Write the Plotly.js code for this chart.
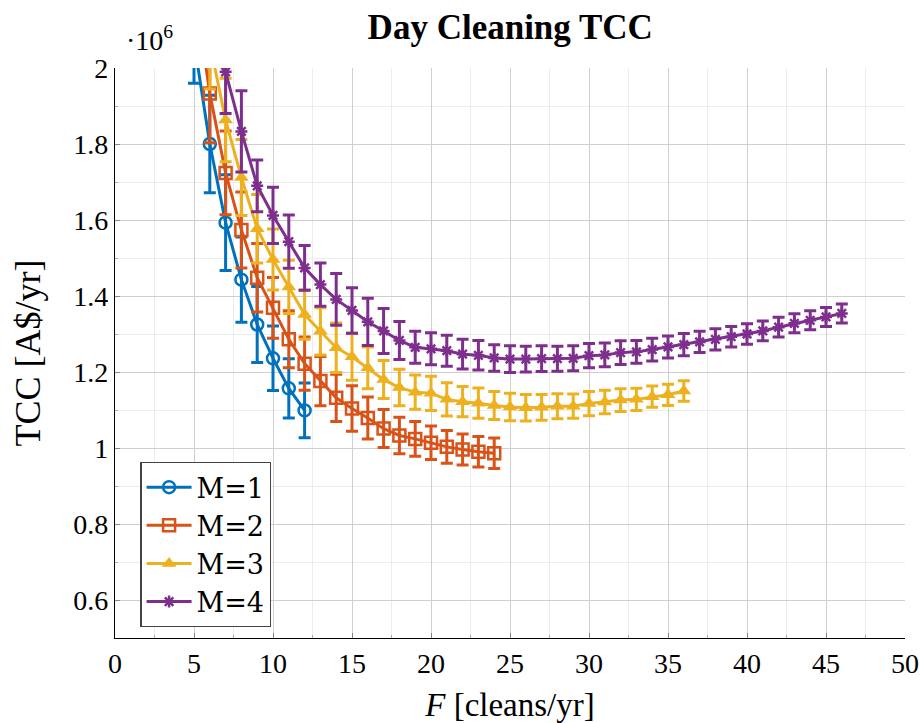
<!DOCTYPE html>
<html>
<head>
<meta charset="utf-8">
<script src="https://cdn.plot.ly/plotly-3.0.1.min.js"></script>
<style>
  html, body { margin: 0; padding: 0; background: #fff; }
  #chart { width: 921px; height: 723px; }
</style>
</head>
<body>
<div id="chart"></div>
<script>
// Total cleaning cost (millions of A$/yr) against cleaning frequency F,
// one series per M, with error bars.
const seriesNames = ["M=1", "M=2", "M=3", "M=4"];

const freqM1 = [5, 6, 7, 8, 9, 10, 11, 12];
const tccM1 = [2.07, 1.80, 1.593, 1.443, 1.325, 1.236, 1.157, 1.099];
const errM1 = [0.11, 0.128, 0.126, 0.112, 0.10, 0.085, 0.078, 0.072];

const freqM2 = [5, 6, 7, 8, 9, 10, 11, 12, 13, 14, 15, 16, 17, 18, 19, 20, 21, 22, 23, 24];
const tccM2 = [2.22, 1.933, 1.724, 1.574, 1.448, 1.369, 1.286, 1.222, 1.176, 1.132, 1.104, 1.079,
               1.051, 1.033, 1.024, 1.014, 1.003, 0.996, 0.990, 0.986];
const errM2 = [0.14, 0.13, 0.11, 0.10, 0.09, 0.08, 0.075, 0.07, 0.065, 0.062, 0.06, 0.055,
               0.05, 0.048, 0.046, 0.044, 0.043, 0.041, 0.04, 0.04];

const freqM3 = [6, 7, 8, 9, 10, 11, 12, 13, 14, 15, 16, 17, 18, 19, 20, 21, 22, 23, 24, 25,
                26, 27, 28, 29, 30, 31, 32, 33, 34, 35, 36];
const tccM3 = [2.065, 1.863, 1.712, 1.577, 1.496, 1.424, 1.351, 1.307, 1.264, 1.240, 1.211, 1.180,
               1.159, 1.147, 1.144, 1.128, 1.122, 1.118, 1.112, 1.108, 1.106, 1.107, 1.110, 1.110,
               1.117, 1.121, 1.126, 1.128, 1.135, 1.140, 1.150];
const errM3 = [0.12, 0.11, 0.10, 0.09, 0.08, 0.07, 0.065, 0.062, 0.065, 0.062, 0.055, 0.05,
               0.048, 0.045, 0.045, 0.044, 0.04, 0.04, 0.037, 0.036, 0.035, 0.034, 0.033, 0.032,
               0.032, 0.031, 0.03, 0.029, 0.028, 0.028, 0.027];

const freqM4 = [6, 7, 8, 9, 10, 11, 12, 13, 14, 15, 16, 17, 18, 19, 20, 21, 22, 23, 24, 25, 26,
                27, 28, 29, 30, 31, 32, 33, 34, 35, 36, 37, 38, 39, 40, 41, 42, 43, 44, 45, 46];
const tccM4 = [2.20, 1.990, 1.833, 1.690, 1.612, 1.543, 1.474, 1.430, 1.391, 1.362, 1.332, 1.308,
               1.283, 1.265, 1.261, 1.256, 1.247, 1.244, 1.237, 1.234, 1.234, 1.235, 1.235, 1.236,
               1.243, 1.245, 1.251, 1.253, 1.259, 1.266, 1.272, 1.279, 1.286, 1.293, 1.300, 1.308,
               1.318, 1.328, 1.336, 1.345, 1.354];
const errM4 = [0.12, 0.11, 0.107, 0.068, 0.074, 0.07, 0.059, 0.057, 0.068, 0.06, 0.062, 0.059,
               0.05, 0.042, 0.042, 0.041, 0.039, 0.039, 0.035, 0.035, 0.034, 0.034, 0.033, 0.033,
               0.032, 0.031, 0.031, 0.03, 0.03, 0.029, 0.029, 0.028, 0.028, 0.027, 0.027, 0.026,
               0.026, 0.025, 0.025, 0.025, 0.025];

const xTicks = [0, 5, 10, 15, 20, 25, 30, 35, 40, 45, 50];
const yTicks = [0.6, 0.8, 1, 1.2, 1.4, 1.6, 1.8, 2];
const yTickText = ["0.6", "0.8", "1", "1.2", "1.4", "1.6", "1.8", "2"];

const colors = ["#0072BD", "#D95319", "#EDB120", "#7E2F8E"];
const serif = "Liberation Serif, DejaVu Serif, serif";
const wideSerif = "DejaVu Serif, Liberation Serif, serif";

function makeTrace(name, x, y, err, color, marker) {
  return {
    type: "scatter",
    mode: "lines+markers",
    name: name,
    x: x,
    y: y,
    line: { color: color, width: 3 },
    marker: Object.assign({ color: color }, marker),
    error_y: { type: "data", array: err, visible: true, color: color, thickness: 3, width: 6 },
    cliponaxis: true
  };
}

const traces = [
  makeTrace(seriesNames[0], freqM1, tccM1, errM1, colors[0],
            { symbol: "circle-open", size: 12, line: { width: 2.5, color: colors[0] } }),
  makeTrace(seriesNames[1], freqM2, tccM2, errM2, colors[1],
            { symbol: "square-open", size: 12, line: { width: 2.5, color: colors[1] } }),
  makeTrace(seriesNames[2], freqM3, tccM3, errM3, colors[2],
            { symbol: "triangle-up", size: 13, line: { width: 0 } }),
  makeTrace(seriesNames[3], freqM4, tccM4, errM4, colors[3],
            { symbol: "asterisk-open", size: 10, line: { width: 2.5, color: colors[3] } })
];

const layout = {
  width: 921,
  height: 723,
  margin: { l: 115, r: 16, t: 68, b: 85 },
  paper_bgcolor: "#ffffff",
  plot_bgcolor: "#ffffff",
  font: { family: serif, size: 28, color: "#000" },
  title: {
    text: "<b>Day Cleaning TCC</b>",
    font: { family: serif, size: 35, color: "#000" },
    x: 0.554, xanchor: "center", y: 0.963, yanchor: "middle"
  },
  showlegend: true,
  legend: {
    x: 0.032, xanchor: "left", y: 0.309, yanchor: "top",
    bgcolor: "#ffffff", bordercolor: "#444", borderwidth: 1.3,
    font: { family: wideSerif, size: 27, color: "#000" },
    itemwidth: 45, tracegroupgap: 0
  },
  xaxis: {
    range: [0, 50],
    tickvals: xTicks,
    ticks: "inside", ticklen: 5, tickcolor: "#888", tickwidth: 1,
    showgrid: true, gridcolor: "#cfcfcf", gridwidth: 1,
    minor: { dtick: 2.5, showgrid: true, gridcolor: "#ececec", ticks: "inside", ticklen: 3, tickcolor: "#aaa" },
    showline: true, linecolor: "#000", linewidth: 1.2,
    zeroline: false,
    tickfont: { family: serif, size: 28 },
    title: { text: "<i>F</i> [cleans/yr]", font: { family: serif, size: 33 }, standoff: 17 }
  },
  yaxis: {
    range: [0.5, 2],
    tickvals: yTicks,
    ticktext: yTickText,
    ticks: "inside", ticklen: 5, tickcolor: "#888", tickwidth: 1,
    showgrid: true, gridcolor: "#cfcfcf", gridwidth: 1,
    minor: { dtick: 0.1, showgrid: true, gridcolor: "#ececec", ticks: "inside", ticklen: 3, tickcolor: "#aaa" },
    showline: true, linecolor: "#000", linewidth: 1.2,
    zeroline: false,
    tickfont: { family: serif, size: 28 },
    title: { text: "TCC [A$/yr]", font: { family: serif, size: 36 }, standoff: 21 }
  },
  annotations: [
    {
      text: "·10<sup>6</sup>",
      xref: "paper", yref: "paper",
      x: 0.012, y: 1.0, xanchor: "left", yanchor: "bottom", yshift: 10,
      showarrow: false,
      font: { family: serif, size: 28, color: "#000" }
    }
  ]
};

Plotly.newPlot("chart", traces, layout, { staticPlot: true, displayModeBar: false });
</script>
</body>
</html>
